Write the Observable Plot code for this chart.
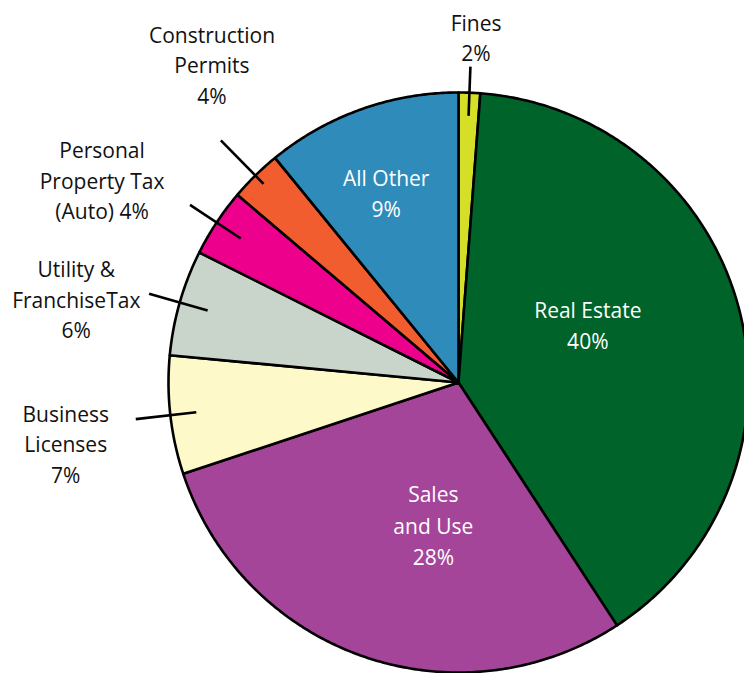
<!DOCTYPE html>
<html><head><meta charset="utf-8">
<script src="https://cdn.jsdelivr.net/npm/d3@7"></script>
<script src="https://cdn.jsdelivr.net/npm/@observablehq/plot@0.6"></script>
<style>body{margin:0;background:#fff}</style>
</head><body><div id="chart"></div>
<script>
// Data
const categories = ["Fines","Real Estate","Sales and Use","Business Licenses","Utility & Franchise Tax","Personal Property Tax (Auto)","Construction Permits","All Other"];
const shares = [1.2, 39.6, 29.1, 6.6, 5.9, 3.8, 2.9, 10.9];
const labels = ["Fines\n2%","Real Estate\n40%","Sales\nand Use\n28%","Business\nLicenses\n7%","Utility &\nFranchiseTax\n6%","Personal\nProperty Tax\n(Auto) 4%","Construction\nPermits\n4%","All Other\n9%"];
const colors = ["#d5df27","#006329","#a4459a","#fef9c9","#c9d4ca","#ec008c","#f15d2f","#2e8bba"];

// Layout (not data)
const W = 744, H = 673, CX = 458, CY = 382, R = 290;
const labelAngle  = [2.9, 65.5, 190.1, 261.3, 282.5, 299.7, 322.3, 339.3];
const labelRadius = [1.195, 0.49, 0.495, 1.37, 1.35, 1.415, 1.39, 0.705];
const inside      = [false, true, true, false, false, false, false, true];
const leaderR     = [[0.92,1.09], null, null, [0.91,1.12], [0.9,1.11], [0.9,1.11], [0.96,1.17], null];

const total = d3.sum(shares);
let cum = 0;
const slices = categories.map((c, i) => {
  const a0 = cum / total * 2 * Math.PI;
  cum += shares[i];
  const a1 = cum / total * 2 * Math.PI;
  return {name: c, i, a0, a1, mid: (a0 + a1) / 2};
});
const pt = (a, r) => [Math.sin(a) * r, -Math.cos(a) * r];

const poly = [];
for (const s of slices) {
  poly.push({name: s.name, x: 0, y: 0});
  const n = Math.max(2, Math.ceil((s.a1 - s.a0) / (Math.PI / 360)));
  for (let k = 0; k <= n; k++) {
    const [x, y] = pt(s.a0 + (s.a1 - s.a0) * k / n, 1);
    poly.push({name: s.name, x, y});
  }
}

const leaders = slices.filter(s => leaderR[s.i]).map(s => {
  const [x1, y1] = pt(s.mid, leaderR[s.i][0]);
  const [x2, y2] = pt(s.mid, leaderR[s.i][1]);
  return {x1, y1, x2, y2};
});

const textData = slices.map(s => {
  const [x, y] = pt(labelAngle[s.i] * Math.PI / 180, labelRadius[s.i]);
  return {x, y, text: labels[s.i], inside: inside[s.i]};
});

const chart = Plot.plot({
  width: W, height: H, margin: 0,
  x: {domain: [-CX / R, (W - CX) / R], range: [0, W], axis: null},
  y: {domain: [-CY / R, (H - CY) / R], range: [0, H], axis: null},
  color: {domain: categories, range: colors},
  style: {fontFamily: "'Open Sans', 'Noto Sans', sans-serif", background: "#fff"},
  marks: [
    Plot.line(poly, {x: "x", y: "y", z: "name", fill: "name", stroke: "#000", strokeWidth: 2.6, strokeLinejoin: "round", curve: "linear-closed"}),
    Plot.link(leaders, {x1: "x1", y1: "y1", x2: "x2", y2: "y2", stroke: "#000", strokeWidth: 2.6}),
    Plot.text(textData.filter(d => !d.inside), {x: "x", y: "y", text: "text", fill: "#111", fontSize: 21, lineHeight: 1.45}),
    Plot.text(textData.filter(d => d.inside), {x: "x", y: "y", text: "text", fill: "#fff", fontSize: 21, lineHeight: 1.5})
  ]
});
document.getElementById("chart").appendChild(chart);
</script>
</body></html>
